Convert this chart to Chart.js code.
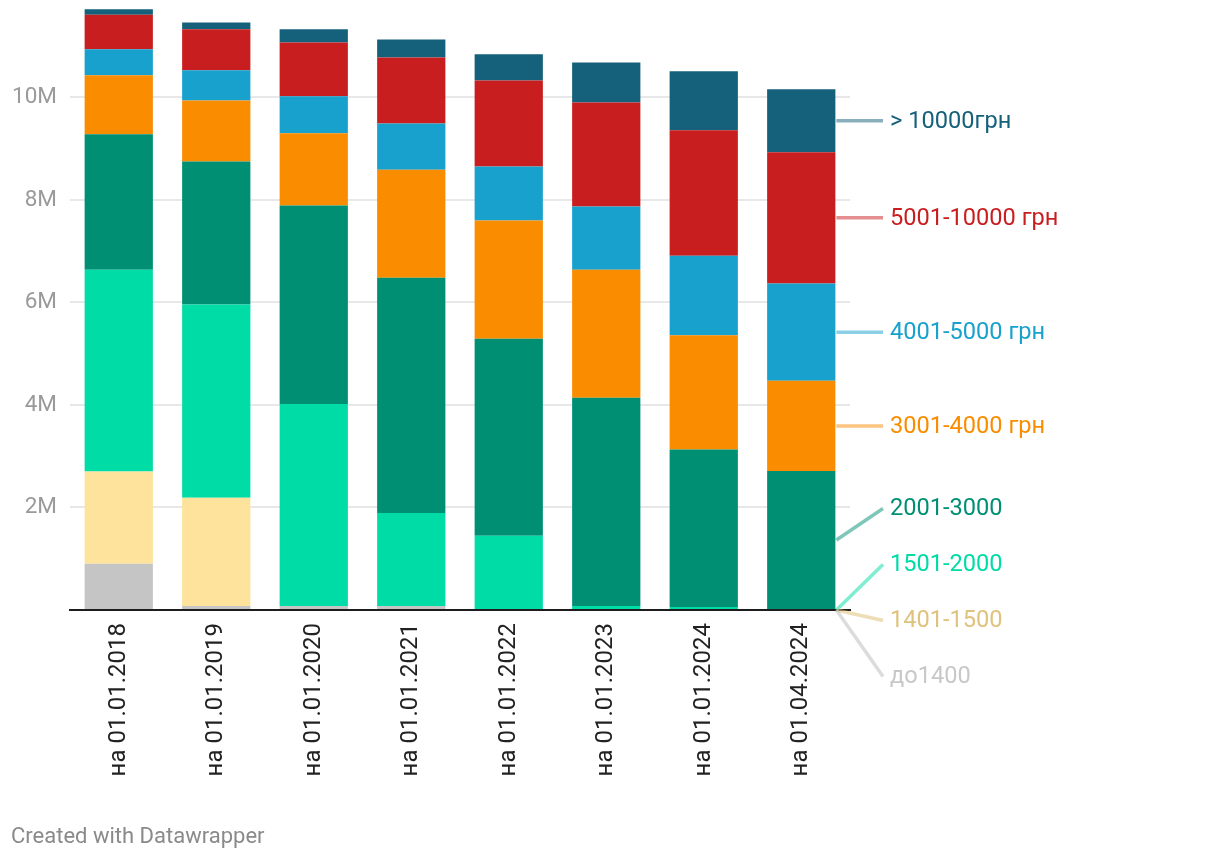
<!DOCTYPE html>
<html>
<head>
<meta charset="utf-8">
<script src="https://cdn.jsdelivr.net/npm/chart.js@4.4.1/dist/chart.umd.min.js"></script>
<style>
  html, body { margin: 0; padding: 0; background: #fff; }
  #wrap { position: relative; width: 1220px; height: 860px; }
  #credit { position: absolute; left: 11px; top: 822px; font: 22px Roboto, sans-serif; color: #8a8a8a; line-height: 28px; }
</style>
</head>
<body>
<div id="wrap">
  <canvas id="c" width="1220" height="860"></canvas>
  <div id="credit">Created with Datawrapper</div>
</div>
<script>
const categories = ["на 01.01.2018", "на 01.01.2019", "на 01.01.2020", "на 01.01.2021",
                    "на 01.01.2022", "на 01.01.2023", "на 01.01.2024", "на 01.04.2024"];
// values in millions of people
const s_upto1400   = [0.90, 0.08, 0.08, 0.08, 0.00, 0.00, 0.00, 0.00];
const s_1401_1500  = [1.80, 2.11, 0.00, 0.00, 0.00, 0.00, 0.00, 0.00];
const s_1501_2000  = [3.94, 3.77, 3.94, 1.81, 1.45, 0.08, 0.06, 0.00];
const s_2001_3000  = [2.64, 2.79, 3.87, 4.59, 3.84, 4.06, 3.07, 2.71];
const s_3001_4000  = [1.15, 1.19, 1.41, 2.11, 2.31, 2.50, 2.23, 1.76];
const s_4001_5000  = [0.51, 0.59, 0.72, 0.90, 1.05, 1.23, 1.55, 1.90];
const s_5001_10000 = [0.67, 0.80, 1.05, 1.29, 1.68, 2.03, 2.45, 2.56];
const s_over10000  = [0.11, 0.13, 0.26, 0.35, 0.51, 0.78, 1.15, 1.23];
const seriesNames = ["до1400", "1401-1500", "1501-2000", "2001-3000",
                     "3001-4000 грн", "4001-5000 грн", "5001-10000 грн", "> 10000грн"];
const yTicks = [0, 2, 4, 6, 8, 10]; // millions

const seriesData = [s_upto1400, s_1401_1500, s_1501_2000, s_2001_3000,
                    s_3001_4000, s_4001_5000, s_5001_10000, s_over10000];
const barColors  = ["#c5c5c5", "#fee39d", "#00dca6", "#008f73", "#fa8c00", "#18a1cd", "#c91e1f", "#15607a"];
const textColors = ["#c8c8c8", "#dfc27c", "#00dca6", "#008f73", "#fa8c00", "#18a1cd", "#c91e1f", "#15607a"];
const lineColors = ["rgba(197,197,197,0.6)", "rgba(223,194,124,0.55)", "rgba(0,220,166,0.5)", "rgba(0,143,115,0.5)",
                    "rgba(250,140,0,0.5)", "rgba(24,161,205,0.5)", "rgba(201,30,31,0.5)", "rgba(21,96,122,0.5)"];

const FONT = "Roboto, sans-serif";

const labelPlugin = {
  id: 'directLabels',
  afterDatasetsDraw(chart) {
    const ctx = chart.ctx;
    const n = chart.data.datasets.length;
    const last = categories.length - 1;
    let items = [];
    for (let i = 0; i < n; i++) {
      const el = chart.getDatasetMeta(i).data[last];
      const mid = (el.y + el.base) / 2;
      items.push({ i, mid, right: el.x + el.width / 2 });
    }
    items.sort((a, b) => a.mid - b.mid || b.i - a.i);
    const gap = 56;
    let clusters = items.map(it => ({ items: [it], center: it.mid }));
    let changed = true;
    while (changed) {
      changed = false;
      for (let k = 0; k < clusters.length - 1; k++) {
        const a = clusters[k], b = clusters[k + 1];
        const aBottom = a.center + (a.items.length - 1) * gap / 2;
        const bTop = b.center - (b.items.length - 1) * gap / 2;
        if (bTop - aBottom < gap) {
          const all = a.items.concat(b.items);
          const c = all.reduce((s, it) => s + it.mid, 0) / all.length;
          clusters.splice(k, 2, { items: all, center: c });
          changed = true;
          break;
        }
      }
    }
    ctx.save();
    clusters.forEach(cl => {
      const top = cl.center - (cl.items.length - 1) * gap / 2;
      cl.items.forEach((it, j) => {
        const ly = top + j * gap;
        const x0 = it.right + 1, x1 = 883, tx = 890;
        ctx.strokeStyle = lineColors[it.i];
        ctx.lineWidth = 3.5;
        ctx.beginPath();
        ctx.moveTo(x0, it.mid);
        ctx.lineTo(x1, ly);
        ctx.stroke();
        ctx.fillStyle = textColors[it.i];
        ctx.font = "23.6px " + FONT;
        ctx.textAlign = "left";
        ctx.textBaseline = "middle";
        ctx.fillText(seriesNames[it.i], tx, ly + 1);
      });
    });
    ctx.restore();
  }
};

new Chart(document.getElementById('c'), {
  type: 'bar',
  data: {
    labels: categories,
    datasets: seriesData.map((d, i) => ({
      label: seriesNames[i],
      data: d.map(v => v * 1e6),
      backgroundColor: barColors[i],
      borderWidth: 0,
      barPercentage: 0.7,
      categoryPercentage: 1.0
    }))
  },
  options: {
    responsive: false,
    animation: false,
    layout: { padding: { left: 0, right: 370, top: 0, bottom: 0 } },
    plugins: { legend: { display: false }, tooltip: { enabled: false } },
    scales: {
      x: {
        stacked: true,
        afterFit(scale) { scale.height = 250; scale.paddingLeft = 0; scale.paddingRight = 0; },
        grid: { display: false },
        border: { display: true, color: '#1d1d1d', width: 2 },
        ticks: {
          minRotation: 90, maxRotation: 90, padding: 5,
          color: '#222', font: { family: FONT, size: 24 }
        }
      },
      y: {
        stacked: true,
        min: 0, max: 11.9e6,
        afterFit(scale) { scale.width = 70; scale.paddingTop = 0; scale.paddingBottom = 0; },
        afterBuildTicks(scale) { scale.ticks = yTicks.map(v => ({ value: v * 1e6 })); },
        border: { display: false },
        grid: { color: '#e8e8e8', lineWidth: 2, drawTicks: false },
        ticks: {
          padding: 13, color: '#9a9a9a', font: { family: FONT, size: 22.5 },
          callback: v => v === 0 ? '' : (v / 1e6) + 'M'
        }
      }
    }
  },
  plugins: [labelPlugin]
});
</script>
</body>
</html>
